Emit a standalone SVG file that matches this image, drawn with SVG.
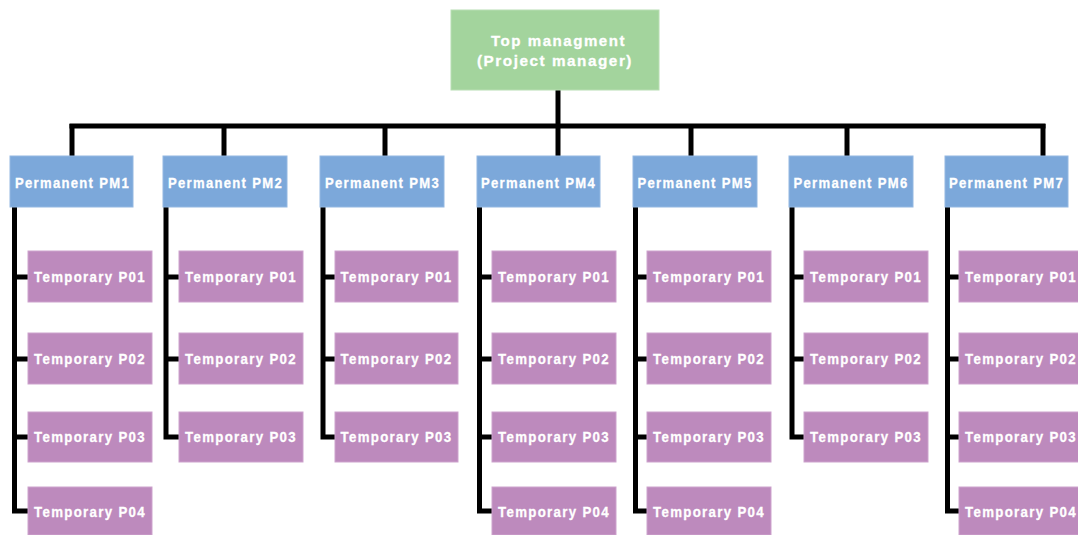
<svg xmlns="http://www.w3.org/2000/svg" width="1078" height="535" viewBox="0 0 1078 535">
  <style>
    .top { fill: #A3D49D; stroke: #B8DEB3; stroke-width: 1; }
    .pm { fill: #7CA8DA; stroke: #93B8E2; stroke-width: 1; }
    .tmp { fill: #BD8ABD; stroke: #CDA3CD; stroke-width: 1; }
    .lbl { font-family: "Liberation Sans", Arial, sans-serif; font-weight: bold; font-size: 15px; letter-spacing: 1.5px; fill: #FFFFFF; stroke: #FFFFFF; stroke-width: 0.3; text-anchor: middle; }
    .wire { fill: none; stroke: #000000; stroke-width: 5; stroke-linejoin: miter; stroke-linecap: butt; }
  </style>
  <rect width="1078" height="535" fill="#FFFFFF"/>

  <!-- connectors -->
  <g id="connectors" class="wire">
    <path d="M558,90 V126"/>
    <path d="M69.5,126 H1045.5"/>
    <path d="M72,124 V156"/>
    <path d="M224,124 V156"/>
    <path d="M385,124 V156"/>
    <path d="M558,124 V156"/>
    <path d="M691,124 V156"/>
    <path d="M847,124 V156"/>
    <path d="M1043,124 V156"/>
    <!-- PM1 -->
    <path d="M14.5,207 V511 H28 M14.5,277 H28 M14.5,359 H28 M14.5,437 H28"/>
    <!-- PM2 -->
    <path d="M166,207 V437 H179 M166,277 H179 M166,359 H179"/>
    <!-- PM3 -->
    <path d="M323,207 V437 H335 M323,277 H335 M323,359 H335"/>
    <!-- PM4 -->
    <path d="M479.5,207 V511 H492 M479.5,277 H492 M479.5,359 H492 M479.5,437 H492"/>
    <!-- PM5 -->
    <path d="M635.5,207 V511 H647 M635.5,277 H647 M635.5,359 H647 M635.5,437 H647"/>
    <!-- PM6 -->
    <path d="M792,207 V437 H804 M792,277 H804 M792,359 H804"/>
    <!-- PM7 -->
    <path d="M947.5,207 V511 H959 M947.5,277 H959 M947.5,359 H959 M947.5,437 H959"/>
  </g>

  <!-- root -->
  <g id="top">
    <rect class="top" x="451" y="10" width="208" height="80"/>
    <text class="lbl" x="558.5" y="46" textLength="135" lengthAdjust="spacingAndGlyphs">Top managment</text>
    <text class="lbl" x="555" y="66" textLength="156" lengthAdjust="spacingAndGlyphs">(Project manager)</text>
  </g>

  <!-- permanent managers -->
  <g id="pm1"><rect class="pm" x="10" y="156" width="123" height="51"/><text class="lbl" x="72.5" y="188" textLength="115" lengthAdjust="spacingAndGlyphs">Permanent PM1</text></g>
  <g id="pm2"><rect class="pm" x="163" y="156" width="124" height="51"/><text class="lbl" x="225.5" y="188" textLength="115" lengthAdjust="spacingAndGlyphs">Permanent PM2</text></g>
  <g id="pm3"><rect class="pm" x="320" y="156" width="124" height="51"/><text class="lbl" x="382.5" y="188" textLength="115" lengthAdjust="spacingAndGlyphs">Permanent PM3</text></g>
  <g id="pm4"><rect class="pm" x="477" y="156" width="123" height="51"/><text class="lbl" x="538.5" y="188" textLength="115" lengthAdjust="spacingAndGlyphs">Permanent PM4</text></g>
  <g id="pm5"><rect class="pm" x="633" y="156" width="124" height="51"/><text class="lbl" x="695" y="188" textLength="115" lengthAdjust="spacingAndGlyphs">Permanent PM5</text></g>
  <g id="pm6"><rect class="pm" x="789" y="156" width="124" height="51"/><text class="lbl" x="851" y="188" textLength="115" lengthAdjust="spacingAndGlyphs">Permanent PM6</text></g>
  <g id="pm7"><rect class="pm" x="945" y="156" width="123" height="51"/><text class="lbl" x="1006.5" y="188" textLength="115" lengthAdjust="spacingAndGlyphs">Permanent PM7</text></g>

  <!-- temporary project offices: column 1 -->
  <g id="pm1-p01"><rect class="tmp" x="28" y="251" width="124" height="51"/><text class="lbl" x="90" y="282" textLength="112" lengthAdjust="spacingAndGlyphs">Temporary P01</text></g>
  <g id="pm1-p02"><rect class="tmp" x="28" y="333" width="124" height="51"/><text class="lbl" x="90" y="364" textLength="112" lengthAdjust="spacingAndGlyphs">Temporary P02</text></g>
  <g id="pm1-p03"><rect class="tmp" x="28" y="412" width="124" height="50"/><text class="lbl" x="90" y="442" textLength="112" lengthAdjust="spacingAndGlyphs">Temporary P03</text></g>
  <g id="pm1-p04"><rect class="tmp" x="28" y="487" width="124" height="48"/><text class="lbl" x="90" y="517" textLength="112" lengthAdjust="spacingAndGlyphs">Temporary P04</text></g>

  <!-- column 2 -->
  <g id="pm2-p01"><rect class="tmp" x="179" y="251" width="124" height="51"/><text class="lbl" x="241" y="282" textLength="112" lengthAdjust="spacingAndGlyphs">Temporary P01</text></g>
  <g id="pm2-p02"><rect class="tmp" x="179" y="333" width="124" height="51"/><text class="lbl" x="241" y="364" textLength="112" lengthAdjust="spacingAndGlyphs">Temporary P02</text></g>
  <g id="pm2-p03"><rect class="tmp" x="179" y="412" width="124" height="50"/><text class="lbl" x="241" y="442" textLength="112" lengthAdjust="spacingAndGlyphs">Temporary P03</text></g>

  <!-- column 3 -->
  <g id="pm3-p01"><rect class="tmp" x="335" y="251" width="123" height="51"/><text class="lbl" x="396.5" y="282" textLength="112" lengthAdjust="spacingAndGlyphs">Temporary P01</text></g>
  <g id="pm3-p02"><rect class="tmp" x="335" y="333" width="123" height="51"/><text class="lbl" x="396.5" y="364" textLength="112" lengthAdjust="spacingAndGlyphs">Temporary P02</text></g>
  <g id="pm3-p03"><rect class="tmp" x="335" y="412" width="123" height="50"/><text class="lbl" x="396.5" y="442" textLength="112" lengthAdjust="spacingAndGlyphs">Temporary P03</text></g>

  <!-- column 4 -->
  <g id="pm4-p01"><rect class="tmp" x="492" y="251" width="124" height="51"/><text class="lbl" x="554" y="282" textLength="112" lengthAdjust="spacingAndGlyphs">Temporary P01</text></g>
  <g id="pm4-p02"><rect class="tmp" x="492" y="333" width="124" height="51"/><text class="lbl" x="554" y="364" textLength="112" lengthAdjust="spacingAndGlyphs">Temporary P02</text></g>
  <g id="pm4-p03"><rect class="tmp" x="492" y="412" width="124" height="50"/><text class="lbl" x="554" y="442" textLength="112" lengthAdjust="spacingAndGlyphs">Temporary P03</text></g>
  <g id="pm4-p04"><rect class="tmp" x="492" y="487" width="124" height="48"/><text class="lbl" x="554" y="517" textLength="112" lengthAdjust="spacingAndGlyphs">Temporary P04</text></g>

  <!-- column 5 -->
  <g id="pm5-p01"><rect class="tmp" x="647" y="251" width="124" height="51"/><text class="lbl" x="709" y="282" textLength="112" lengthAdjust="spacingAndGlyphs">Temporary P01</text></g>
  <g id="pm5-p02"><rect class="tmp" x="647" y="333" width="124" height="51"/><text class="lbl" x="709" y="364" textLength="112" lengthAdjust="spacingAndGlyphs">Temporary P02</text></g>
  <g id="pm5-p03"><rect class="tmp" x="647" y="412" width="124" height="50"/><text class="lbl" x="709" y="442" textLength="112" lengthAdjust="spacingAndGlyphs">Temporary P03</text></g>
  <g id="pm5-p04"><rect class="tmp" x="647" y="487" width="124" height="48"/><text class="lbl" x="709" y="517" textLength="112" lengthAdjust="spacingAndGlyphs">Temporary P04</text></g>

  <!-- column 6 -->
  <g id="pm6-p01"><rect class="tmp" x="804" y="251" width="124" height="51"/><text class="lbl" x="866" y="282" textLength="112" lengthAdjust="spacingAndGlyphs">Temporary P01</text></g>
  <g id="pm6-p02"><rect class="tmp" x="804" y="333" width="124" height="51"/><text class="lbl" x="866" y="364" textLength="112" lengthAdjust="spacingAndGlyphs">Temporary P02</text></g>
  <g id="pm6-p03"><rect class="tmp" x="804" y="412" width="124" height="50"/><text class="lbl" x="866" y="442" textLength="112" lengthAdjust="spacingAndGlyphs">Temporary P03</text></g>

  <!-- column 7 -->
  <g id="pm7-p01"><rect class="tmp" x="959" y="251" width="124" height="51"/><text class="lbl" x="1021" y="282" textLength="112" lengthAdjust="spacingAndGlyphs">Temporary P01</text></g>
  <g id="pm7-p02"><rect class="tmp" x="959" y="333" width="124" height="51"/><text class="lbl" x="1021" y="364" textLength="112" lengthAdjust="spacingAndGlyphs">Temporary P02</text></g>
  <g id="pm7-p03"><rect class="tmp" x="959" y="412" width="124" height="50"/><text class="lbl" x="1021" y="442" textLength="112" lengthAdjust="spacingAndGlyphs">Temporary P03</text></g>
  <g id="pm7-p04"><rect class="tmp" x="959" y="487" width="124" height="48"/><text class="lbl" x="1021" y="517" textLength="112" lengthAdjust="spacingAndGlyphs">Temporary P04</text></g>
</svg>
